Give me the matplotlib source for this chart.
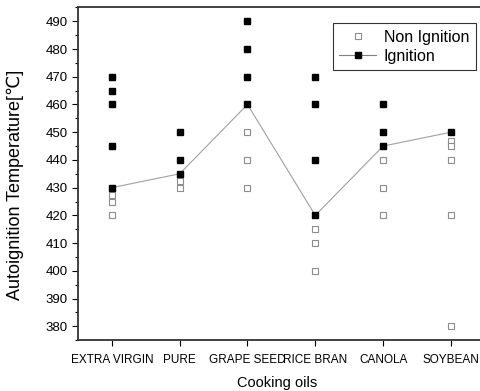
import numpy as np
import matplotlib
matplotlib.use('Agg')
import matplotlib.pyplot as plt
from matplotlib.ticker import MultipleLocator

plt.rcParams['font.family'] = ['Liberation Sans', 'DejaVu Sans']

oils = ['EXTRA VIRGIN', 'PURE', 'GRAPE SEED', 'RICE BRAN', 'CANOLA', 'SOYBEAN']

# measured temperatures per oil
ignition = [
    [470, 465, 460, 445, 430],
    [450, 440, 435],
    [490, 480, 470, 460],
    [470, 460, 440, 420],
    [460, 450, 445],
    [450],
]
non_ignition = [
    [427.5, 425, 420],
    [432.5, 430],
    [450, 440, 430],
    [415, 410, 400],
    [440, 430, 420],
    [447, 445, 440, 420, 380],
]
# lowest ignition temperature (connected line)
min_ignition = [430, 435, 460, 420, 445, 450]

fig = plt.figure(figsize=(4.81, 3.91), dpi=100)
ax = fig.add_axes([0.162, 0.130, 0.846, 0.851])

x = np.arange(len(oils))

for i in range(len(oils)):
    ax.plot([x[i]] * len(non_ignition[i]), non_ignition[i], linestyle='none',
            marker='s', markersize=5, markerfacecolor='white',
            markeredgecolor='#8c8c8c', markeredgewidth=0.8, zorder=3)
    ax.plot([x[i]] * len(ignition[i]), ignition[i], linestyle='none',
            marker='s', markersize=5, color='black', zorder=4)

ax.plot(x, min_ignition, color='#a0a0a0', linewidth=0.8, zorder=2)

# legend handles
h1, = ax.plot([], [], linestyle='none', marker='s', markersize=5,
              markerfacecolor='white', markeredgecolor='#8c8c8c', markeredgewidth=0.8)
h2, = ax.plot([], [], color='#808080', linewidth=0.8, marker='s', markersize=5,
              markerfacecolor='black', markeredgecolor='black')
leg = ax.legend([h1, h2], ['Non Ignition', 'Ignition'], loc='upper right',
                bbox_to_anchor=(0.9775, 0.952), fontsize=11.5, frameon=True,
                fancybox=False, edgecolor='black', handlelength=2.3,
                handletextpad=0.5, borderpad=0.4, labelspacing=0.25,
                borderaxespad=0)
leg.get_frame().set_linewidth(0.8)

ax.set_xlim(-0.5, 5.5)
ax.set_ylim(375, 495)
ax.set_xticks(x)
ax.set_xticklabels(oils, fontsize=8.5)
ax.yaxis.set_major_locator(MultipleLocator(10))
ax.yaxis.set_minor_locator(MultipleLocator(5))
ax.set_yticks([t for t in range(380, 491, 10)])
ax.tick_params(axis='y', labelsize=9.5, direction='out', length=4, width=0.8)
ax.tick_params(axis='y', which='minor', length=2.5, width=0.8)
ax.tick_params(axis='x', direction='out', length=4, width=0.8, pad=6)

for s in ax.spines.values():
    s.set_linewidth(1.3)
    s.set_color('#333333')

ax.set_xlabel('Cooking oils', fontsize=10.5, va='center')
ax.xaxis.set_label_coords(0.49, -0.129)
ax.set_ylabel('Autoignition Temperature[\u2103]', fontsize=13, va='center')
ax.yaxis.set_label_coords(-0.155, 0.466)

fig.savefig('out.png', dpi=100)
